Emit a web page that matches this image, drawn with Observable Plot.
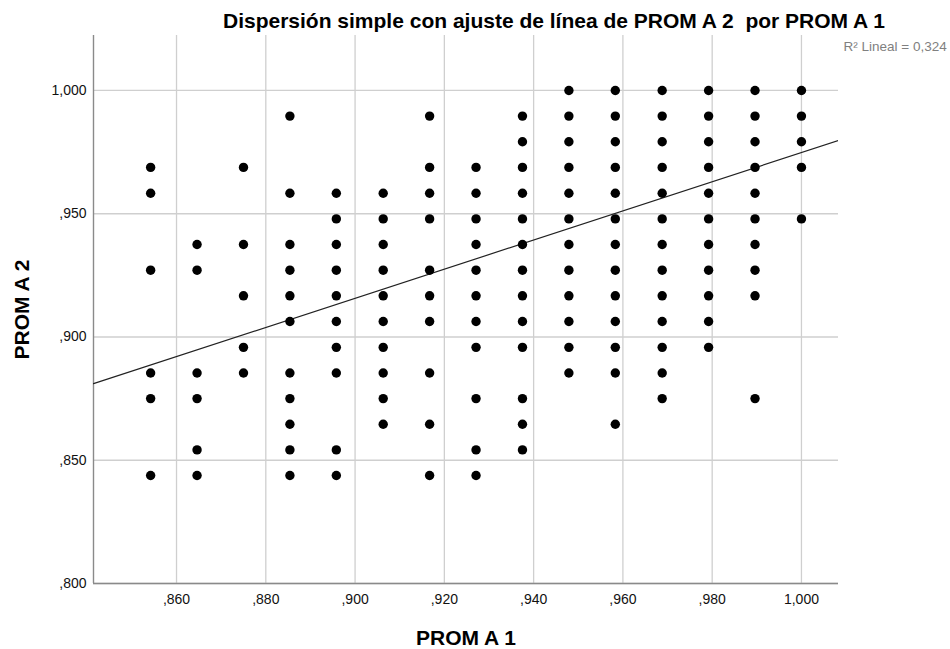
<!DOCTYPE html>
<html>
<head>
<meta charset="utf-8">
<script src="https://cdn.jsdelivr.net/npm/d3@7"></script>
<script src="https://cdn.jsdelivr.net/npm/@observablehq/plot@0.6"></script>
<style>
  html, body { margin: 0; padding: 0; background: #fff; overflow: hidden; }
</style>
</head>
<body>
<div id="chart"></div>
<script>
// ---- Data (PROM A 1 column -> PROM A 2 values) ----
const promA1Values = [0.8542, 0.8646, 0.875, 0.8854, 0.8958, 0.9063, 0.9167, 0.9271, 0.9375, 0.9479, 0.9583, 0.9688, 0.9792, 0.9896, 1.0];

const promA2_at_8542 = [0.9688, 0.9583, 0.9271, 0.8854, 0.875, 0.8438];
const promA2_at_8646 = [0.9375, 0.9271, 0.8854, 0.875, 0.8542, 0.8438];
const promA2_at_8750 = [0.9688, 0.9375, 0.9167, 0.8958, 0.8854];
const promA2_at_8854 = [0.9896, 0.9583, 0.9375, 0.9271, 0.9167, 0.9063, 0.8854, 0.875, 0.8646, 0.8542, 0.8438];
const promA2_at_8958 = [0.9583, 0.9479, 0.9375, 0.9271, 0.9167, 0.9063, 0.8958, 0.8854, 0.8542, 0.8438];
const promA2_at_9063 = [0.9583, 0.9479, 0.9375, 0.9271, 0.9167, 0.9063, 0.8958, 0.8854, 0.875, 0.8646];
const promA2_at_9167 = [0.9896, 0.9688, 0.9583, 0.9479, 0.9271, 0.9167, 0.9063, 0.8854, 0.8646, 0.8438];
const promA2_at_9271 = [0.9688, 0.9583, 0.9479, 0.9375, 0.9271, 0.9167, 0.9063, 0.8958, 0.875, 0.8542, 0.8438];
const promA2_at_9375 = [0.9896, 0.9792, 0.9688, 0.9583, 0.9479, 0.9375, 0.9271, 0.9167, 0.9063, 0.8958, 0.875, 0.8646, 0.8542];
const promA2_at_9479 = [1.0, 0.9896, 0.9792, 0.9688, 0.9583, 0.9479, 0.9375, 0.9271, 0.9167, 0.9063, 0.8958, 0.8854];
const promA2_at_9583 = [1.0, 0.9896, 0.9792, 0.9688, 0.9583, 0.9479, 0.9375, 0.9271, 0.9167, 0.9063, 0.8958, 0.8854, 0.8646];
const promA2_at_9688 = [1.0, 0.9896, 0.9792, 0.9688, 0.9583, 0.9479, 0.9375, 0.9271, 0.9167, 0.9063, 0.8958, 0.8854, 0.875];
const promA2_at_9792 = [1.0, 0.9896, 0.9792, 0.9688, 0.9583, 0.9479, 0.9375, 0.9271, 0.9167, 0.9063, 0.8958];
const promA2_at_9896 = [1.0, 0.9896, 0.9792, 0.9688, 0.9583, 0.9479, 0.9375, 0.9271, 0.9167, 0.875];
const promA2_at_1000 = [1.0, 0.9896, 0.9792, 0.9688, 0.9479];

const promA2Columns = [
  promA2_at_8542, promA2_at_8646, promA2_at_8750, promA2_at_8854, promA2_at_8958,
  promA2_at_9063, promA2_at_9167, promA2_at_9271, promA2_at_9375, promA2_at_9479,
  promA2_at_9583, promA2_at_9688, promA2_at_9792, promA2_at_9896, promA2_at_1000
];

// Fit line (linear)
const fitIntercept = 0.3838;
const fitSlope = 0.591;
const rSquaredLabel = "R\u00B2 Lineal = 0,324";

// Axes
const xDomain = [0.8414, 1.0083];
const yDomain = [0.800, 1.0223];
const xTicks = [0.86, 0.88, 0.90, 0.92, 0.94, 0.96, 0.98, 1.00];
const xTickLabels = [",860", ",880", ",900", ",920", ",940", ",960", ",980", "1,000"];
const yTicks = [0.80, 0.85, 0.90, 0.95, 1.00];
const yTickLabels = [",800", ",850", ",900", ",950", "1,000"];

const titleText = "Dispersi\u00F3n simple con ajuste de l\u00EDnea de PROM A 2  por PROM A 1";
const xLabel = "PROM A 1";
const yLabel = "PROM A 2";

// ---- Build table ----
const points = [];
promA1Values.forEach((x, i) => promA2Columns[i].forEach(y => points.push({x, y})));
const fitPoints = xDomain.map(x => ({x, y: fitIntercept + fitSlope * x}));

const xFmt = v => xTickLabels[xTicks.findIndex(t => Math.abs(t - v) < 1e-9)];
const yFmt = v => yTickLabels[yTicks.findIndex(t => Math.abs(t - v) < 1e-9)];

const font = "'Liberation Sans', Arial, Helvetica, sans-serif";

const chart = Plot.plot({
  width: 950,
  height: 649,
  marginLeft: 93,
  marginRight: 112,
  marginTop: 35,
  marginBottom: 66,
  style: { fontFamily: font, fontSize: "14px", background: "#fff", color: "#111" },
  x: { domain: xDomain, label: null },
  y: { domain: yDomain, label: null },
  marks: [
    Plot.gridX(xTicks, { stroke: "#cfcfcf", strokeOpacity: 1, strokeWidth: 1.3 }),
    Plot.gridY(yTicks, { stroke: "#cfcfcf", strokeOpacity: 1, strokeWidth: 1.3 }),
    Plot.ruleX([xDomain[0]], { stroke: "#8a8a8a", strokeWidth: 1.4 }),
    Plot.ruleY([yDomain[0]], { stroke: "#8a8a8a", strokeWidth: 1.4 }),
    Plot.axisX(xTicks, { tickSize: 0, tickPadding: 11, tickFormat: xFmt, fontSize: 14, label: null }),
    Plot.axisY(yTicks, { tickSize: 0, tickPadding: 7, tickFormat: yFmt, fontSize: 14, label: null }),
    Plot.line(fitPoints, { x: "x", y: "y", stroke: "#222", strokeWidth: 1.2, clip: true }),
    Plot.dot(points, { x: "x", y: "y", r: 4.7, fill: "#000", stroke: "none" }),
    Plot.text([titleText], { text: d => d, frameAnchor: "top", lineAnchor: "middle", textAnchor: "middle", dx: 88, dy: -14, fontSize: 21, fontWeight: "bold", fill: "#000" }),
    Plot.text([rSquaredLabel], { text: d => d, frameAnchor: "top-right", lineAnchor: "middle", textAnchor: "start", dx: 5, dy: 11, fontSize: 13.5, fill: "#808080" }),
    Plot.text([xLabel], { text: d => d, frameAnchor: "bottom", lineAnchor: "middle", textAnchor: "middle", dy: 55, fontSize: 21, fontWeight: "bold", fill: "#000" }),
    Plot.text([yLabel], { text: d => d, frameAnchor: "left", lineAnchor: "middle", textAnchor: "middle", dx: -71, rotate: -90, fontSize: 21, fontWeight: "bold", fill: "#000" })
  ]
});

document.getElementById("chart").appendChild(chart);
</script>
</body>
</html>
